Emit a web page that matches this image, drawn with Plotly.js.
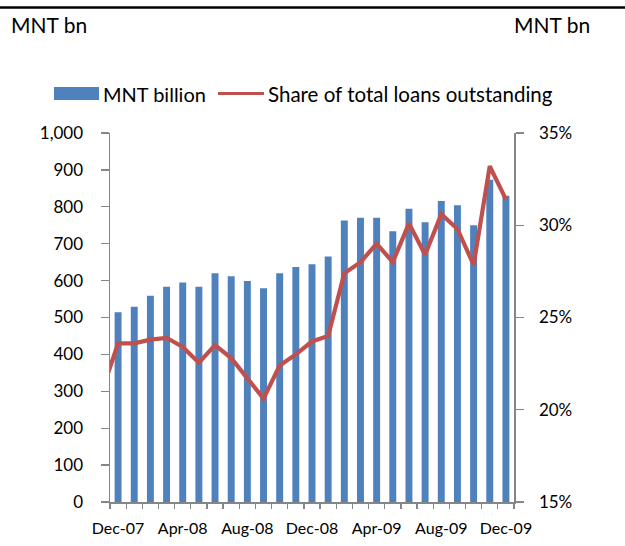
<!DOCTYPE html>
<html>
<head>
<meta charset="utf-8">
<script src="https://cdn.plot.ly/plotly-3.0.1.min.js"></script>
<style>html,body{margin:0;padding:0;background:#fff;}#chart{width:625px;height:546px;}</style>
</head>
<body>
<div id="chart"></div>
<script>
// ---- data ----
const months = ['Dec-07','Jan-08','Feb-08','Mar-08','Apr-08','May-08','Jun-08','Jul-08','Aug-08','Sep-08','Oct-08','Nov-08',
                'Dec-08','Jan-09','Feb-09','Mar-09','Apr-09','May-09','Jun-09','Jul-09','Aug-09','Sep-09','Oct-09','Nov-09','Dec-09'];
const tickLabelMonths = ['Dec-07','Apr-08','Aug-08','Dec-08','Apr-09','Aug-09','Dec-09'];
const loansMNTbn = [514, 529, 559, 583, 595, 583, 620, 612, 599, 579, 620, 637,
                    644, 665, 763, 770, 770, 734, 795, 758, 816, 804, 750, 873, 830];
const shareOfLoans = [23.6, 23.6, 23.8, 23.9, 23.4, 22.55, 23.5, 22.8, 21.7, 20.6, 22.4, 23.0,
                      23.7, 24.0, 27.4, 28.0, 29.0, 28.0, 30.1, 28.4, 30.6, 29.8, 27.85, 33.2, 31.4];
const sharePrevMonth = 21.0; // Nov-07, just outside the plotted range
const leftTicks = [0,100,200,300,400,500,600,700,800,900,1000];
const rightTicks = [15,20,25,30,35];
const rightTickText = ['15%','20%','25%','30%','35%'];
const seriesNames = ['MNT billion', 'Share of total loans outstanding'];
const unitLabel = 'MNT bn';

// ---- layout geometry ----
const W = 625, H = 546;
const M = {l: 110, r: 111, t: 133, b: 44};
const PW = W - M.l - M.r, PH = H - M.t - M.b;
const px = x => (x - M.l) / PW;
const py = y => (H - M.b - y) / PH;

const BLUE = '#4F81BD', RED = '#C0504D', AX = '#868686';
const FONT = 'Lato, "Open Sans", sans-serif';

const idx = months.map((_, i) => i);
const tickIdx = tickLabelMonths.map(m => months.indexOf(m));

const traces = [
  {type: 'bar', x: idx, y: loansMNTbn, name: seriesNames[0], width: 0.43,
   marker: {color: BLUE, line: {width: 0}}, xaxis: 'x', yaxis: 'y', hoverinfo: 'skip'},
  {type: 'scatter', mode: 'lines', x: [-1].concat(idx), y: [sharePrevMonth].concat(shareOfLoans),
   name: seriesNames[1], line: {color: RED, width: 4.2}, xaxis: 'x', yaxis: 'y2', hoverinfo: 'skip'}
];

const layout = {
  width: W, height: H,
  margin: M,
  paper_bgcolor: '#fff', plot_bgcolor: '#fff',
  showlegend: false,
  font: {family: FONT, size: 17, color: '#000'},
  xaxis: {
    range: [-0.5, months.length - 0.5], fixedrange: true,
    tickmode: 'array', tickvals: tickIdx, ticktext: tickLabelMonths,
    ticks: '', showgrid: false, zeroline: false,
    showline: true, linecolor: AX, linewidth: 1.5,
    tickfont: {family: FONT, size: 16, color: '#000'},
    ticklabelstandoff: 11,
    minor: {tick0: -0.5, dtick: 1, ticks: 'outside', ticklen: 5, tickcolor: AX, tickwidth: 1.3, showgrid: false}
  },
  yaxis: {
    range: [0, 1000], tickmode: 'array', tickvals: leftTicks,
    tickformat: ',d', ticks: 'outside', ticklen: 8, tickcolor: AX, tickwidth: 1.3,
    showline: true, linecolor: AX, linewidth: 1.5, showgrid: false, zeroline: false,
    tickfont: {family: FONT, size: 17, color: '#000'}, ticklabelstandoff: 14
  },
  yaxis2: {
    range: [15, 35], overlaying: 'y', side: 'right', tickmode: 'array', tickvals: rightTicks,
    ticktext: rightTickText, ticks: 'outside', ticklen: 8, tickcolor: AX, tickwidth: 1.3,
    showline: true, linecolor: AX, linewidth: 1.5, showgrid: false, zeroline: false,
    tickfont: {family: FONT, size: 17, color: '#000'}, ticklabelstandoff: 12
  },
  shapes: [
    {type: 'line', xref: 'paper', yref: 'paper', x0: px(0), x1: px(W), y0: py(7.5), y1: py(7.5),
     line: {color: '#000', width: 2.5}},
    {type: 'rect', xref: 'paper', yref: 'paper', x0: px(54), x1: px(99), y0: py(87), y1: py(100),
     fillcolor: BLUE, line: {width: 0}},
    {type: 'line', xref: 'paper', yref: 'paper', x0: px(218), x1: px(264), y0: py(93.5), y1: py(93.5),
     line: {color: RED, width: 3}}
  ],
  annotations: [
    {xref: 'paper', yref: 'paper', x: px(9), y: py(25), xanchor: 'left', yanchor: 'middle', showarrow: false,
     text: unitLabel, font: {family: FONT, size: 21, color: '#000'}},
    {xref: 'paper', yref: 'paper', x: px(512), y: py(25), xanchor: 'left', yanchor: 'middle', showarrow: false,
     text: unitLabel, font: {family: FONT, size: 21, color: '#000'}},
    {xref: 'paper', yref: 'paper', x: px(101), y: py(93.5), xanchor: 'left', yanchor: 'middle', showarrow: false,
     text: seriesNames[0], font: {family: FONT, size: 20, color: '#000'}},
    {xref: 'paper', yref: 'paper', x: px(266), y: py(93.5), xanchor: 'left', yanchor: 'middle', showarrow: false,
     text: seriesNames[1], font: {family: FONT, size: 20.5, color: '#000'}}
  ]
};

Plotly.newPlot('chart', traces, layout, {displayModeBar: false, staticPlot: true});
</script>
</body>
</html>
